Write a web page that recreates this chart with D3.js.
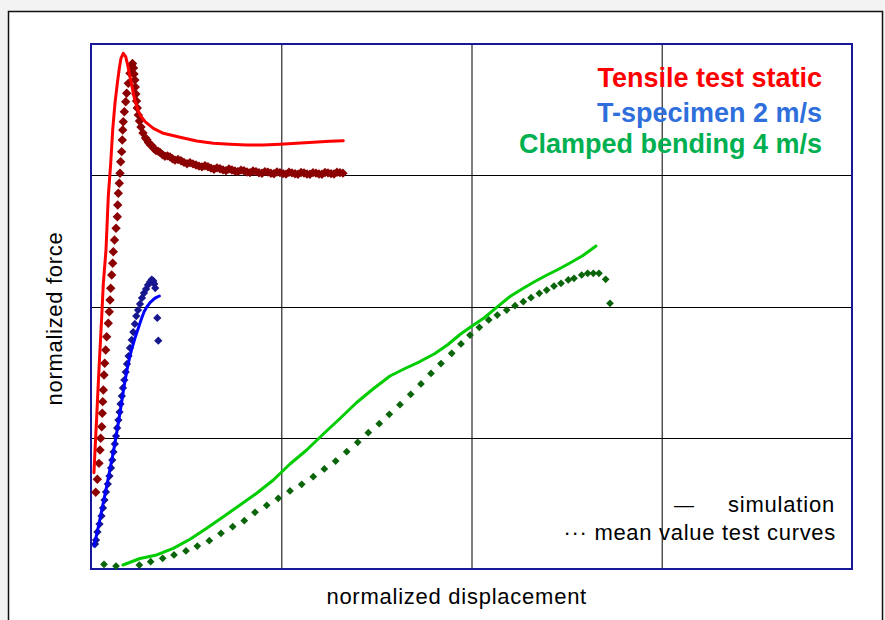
<!DOCTYPE html>
<html>
<head>
<meta charset="utf-8">
<script src="https://cdn.jsdelivr.net/npm/d3@7"></script>
<style>
  html, body { margin: 0; padding: 0; background: #f3f3f3; }
  svg { display: block; }
  text { font-family: "Liberation Sans", Arial, sans-serif; }
</style>
</head>
<body>
<svg id="chart" width="885" height="620"></svg>
<script>
// Normalized force vs. normalized displacement, simulation (lines) against
// mean test curves (diamonds) for three load cases.

const gridTicks = [0.25, 0.5, 0.75];

const seriesNames = ["Tensile test static", "T-specimen 2 m/s", "Clamped bending 4 m/s"];
const legendNotes = ["simulation", "\u00b7\u00b7\u00b7 mean value test curves"];

// Tensile test static — simulation
const tensileSim = [
  [0.0039,0.1834],[0.0053,0.2267],[0.0075,0.2901],[0.0096,0.3537],[0.0118,0.4171],
  [0.0141,0.4806],[0.0162,0.5442],[0.0197,0.6076],[0.0227,0.7091],[0.0259,0.7728],
  [0.0285,0.8362],[0.0315,0.8870],[0.0346,0.9251],[0.0372,0.9537],[0.0394,0.9728],
  [0.0424,0.9823],[0.0456,0.9758],[0.0477,0.9632],[0.0503,0.9442],[0.0535,0.9219],
  [0.0565,0.8996],[0.0601,0.8806],[0.0644,0.8648],[0.0710,0.8520],[0.0819,0.8394],
  [0.0950,0.8299],[0.1170,0.8223],[0.1389,0.8152],[0.1607,0.8109],[0.1827,0.8090],
  [0.2046,0.8076],[0.2264,0.8076],[0.2484,0.8090],[0.2703,0.8109],[0.2921,0.8128],
  [0.3141,0.8147],[0.3315,0.8158]
];

// Tensile test static — mean test curve
const tensileTest = [
  [0.0062,0.1461],[0.0083,0.1709],[0.0105,0.2013],[0.0118,0.2267],[0.0127,0.2490],
  [0.0141,0.2710],[0.0148,0.2966],[0.0154,0.3187],[0.0162,0.3410],[0.0171,0.3695],
  [0.0180,0.3918],[0.0193,0.4171],[0.0206,0.4425],[0.0227,0.4680],[0.0240,0.4901],
  [0.0250,0.5124],[0.0259,0.5347],[0.0272,0.5600],[0.0285,0.5823],[0.0293,0.6044],
  [0.0309,0.6267],[0.0329,0.6490],[0.0346,0.6710],[0.0351,0.6933],[0.0359,0.7156],
  [0.0372,0.7347],[0.0381,0.7537],[0.0390,0.7758],[0.0403,0.7949],[0.0411,0.8171],
  [0.0417,0.8362],[0.0424,0.8520],[0.0438,0.8710],[0.0456,0.8901],[0.0469,0.9061],
  [0.0490,0.9251],[0.0512,0.9442],[0.0535,0.9600],[0.0545,0.9629],[0.0558,0.9543],
  [0.0565,0.9429],[0.0576,0.9314],[0.0582,0.9181],[0.0589,0.9048],[0.0598,0.8914],
  [0.0608,0.8781],[0.0622,0.8648],[0.0637,0.8533],[0.0657,0.8419],[0.0683,0.8305],
  [0.0716,0.8210],[0.0736,0.8175],[0.0756,0.8124],[0.0779,0.8080],[0.0802,0.8060],
  [0.0828,0.8005],[0.0854,0.7970],[0.0880,0.7960],[0.0907,0.7935],[0.0940,0.7890],
  [0.0972,0.7862],[0.1005,0.7870],[0.1038,0.7850],[0.1071,0.7815],[0.1104,0.7788],
  [0.1143,0.7800],[0.1183,0.7775],[0.1222,0.7745],[0.1262,0.7720],[0.1301,0.7740],
  [0.1340,0.7716],[0.1380,0.7695],[0.1419,0.7674],[0.1458,0.7660],[0.1498,0.7680],
  [0.1537,0.7662],[0.1577,0.7635],[0.1616,0.7615],[0.1656,0.7641],[0.1695,0.7625],
  [0.1735,0.7602],[0.1774,0.7588],[0.1813,0.7618],[0.1852,0.7600],[0.1892,0.7580],
  [0.1931,0.7570],[0.1971,0.7598],[0.2010,0.7585],[0.2050,0.7561],[0.2089,0.7549],
  [0.2129,0.7582],[0.2168,0.7570],[0.2208,0.7548],[0.2247,0.7538],[0.2286,0.7570],
  [0.2325,0.7560],[0.2365,0.7538],[0.2404,0.7528],[0.2444,0.7562],[0.2483,0.7550],
  [0.2523,0.7532],[0.2562,0.7522],[0.2602,0.7556],[0.2641,0.7545],[0.2681,0.7528],
  [0.2720,0.7520],[0.2760,0.7552],[0.2799,0.7542],[0.2838,0.7525],[0.2877,0.7518],
  [0.2917,0.7550],[0.2956,0.7540],[0.2996,0.7524],[0.3035,0.7520],[0.3075,0.7552],
  [0.3114,0.7545],[0.3154,0.7530],[0.3193,0.7525],[0.3233,0.7558],[0.3272,0.7550],
  [0.3311,0.7540]
];

// T-specimen 2 m/s — simulation
const tSpecimenSim = [
  [0.0039,0.0438],[0.0079,0.0686],[0.0118,0.0952],[0.0158,0.1238],[0.0204,0.1562],
  [0.0250,0.1905],[0.0296,0.2248],[0.0335,0.2571],[0.0372,0.2895],[0.0407,0.3219],
  [0.0440,0.3524],[0.0473,0.3790],[0.0506,0.4019],[0.0539,0.4210],[0.0578,0.4400],
  [0.0618,0.4571],[0.0657,0.4743],[0.0696,0.4895],[0.0732,0.4990],[0.0775,0.5076],
  [0.0819,0.5133],[0.0854,0.5171],[0.0898,0.5200]
];

// T-specimen 2 m/s — mean test curve
const tSpecimenTest = [
  [0.0053,0.0476],[0.0066,0.0552],[0.0085,0.0705],[0.0112,0.0857],[0.0138,0.1010],
  [0.0158,0.1162],[0.0177,0.1314],[0.0197,0.1467],[0.0221,0.1619],[0.0243,0.1771],
  [0.0263,0.1924],[0.0280,0.2076],[0.0296,0.2229],[0.0313,0.2381],[0.0329,0.2533],
  [0.0344,0.2686],[0.0360,0.2838],[0.0375,0.2990],[0.0388,0.3143],[0.0405,0.3295],
  [0.0420,0.3448],[0.0438,0.3600],[0.0456,0.3752],[0.0473,0.3905],[0.0493,0.4057],
  [0.0512,0.4210],[0.0535,0.4362],[0.0556,0.4514],[0.0576,0.4667],[0.0595,0.4819],
  [0.0618,0.4933],[0.0644,0.5048],[0.0670,0.5162],[0.0696,0.5257],[0.0723,0.5333],
  [0.0749,0.5410],[0.0775,0.5467],[0.0798,0.5514],[0.0819,0.5486],[0.0832,0.5429],
  [0.0844,0.5352],[0.0871,0.4781],[0.0884,0.4349]
];

// Clamped bending 4 m/s — simulation
const bendingSim = [
  [0.0420,0.0076],[0.0644,0.0200],[0.0863,0.0267],[0.1081,0.0394],[0.1301,0.0566],
  [0.1520,0.0775],[0.1739,0.0996],[0.1958,0.1219],[0.2177,0.1442],[0.2396,0.1695],
  [0.2615,0.2000],[0.2834,0.2267],[0.3053,0.2571],[0.3272,0.2867],[0.3491,0.3171],
  [0.3706,0.3429],[0.3929,0.3676],[0.4126,0.3819],[0.4323,0.3952],[0.4520,0.4105],
  [0.4691,0.4276],[0.4849,0.4467],[0.5007,0.4629],[0.5164,0.4781],[0.5335,0.4990],
  [0.5506,0.5190],[0.5664,0.5333],[0.5821,0.5467],[0.5979,0.5590],[0.6137,0.5705],
  [0.6294,0.5829],[0.6465,0.5971],[0.6636,0.6152]
];

// Clamped bending 4 m/s — mean test curve
const bendingTest = [
  [0.0171,0.0090],[0.0329,0.0057],[0.0635,0.0076],[0.0784,0.0139],[0.0942,0.0204],
  [0.1091,0.0267],[0.1248,0.0343],[0.1397,0.0438],[0.1555,0.0539],[0.1708,0.0680],
  [0.1862,0.0806],[0.2014,0.0920],[0.2155,0.1080],[0.2309,0.1213],[0.2461,0.1347],
  [0.2615,0.1486],[0.2769,0.1613],[0.2921,0.1758],[0.3066,0.1905],[0.3215,0.2057],
  [0.3360,0.2234],[0.3505,0.2413],[0.3644,0.2596],[0.3788,0.2768],[0.3920,0.2947],
  [0.4060,0.3130],[0.4201,0.3328],[0.4336,0.3524],[0.4468,0.3724],[0.4599,0.3914],
  [0.4740,0.4109],[0.4862,0.4286],[0.4980,0.4457],[0.5103,0.4604],[0.5226,0.4743],
  [0.5339,0.4838],[0.5463,0.4933],[0.5572,0.5015],[0.5681,0.5091],[0.5782,0.5168],
  [0.5891,0.5251],[0.5988,0.5314],[0.6084,0.5390],[0.6176,0.5442],[0.6272,0.5505],
  [0.6347,0.5537],[0.6448,0.5600],[0.6527,0.5632],[0.6601,0.5632],[0.6675,0.5632],
  [0.6763,0.5518],[0.6820,0.5061]
];

const svg = d3.select("#chart");

// page frame
svg.append("rect")
  .attr("x", 8.5).attr("y", 11.5).attr("width", 874).attr("height", 640)
  .attr("fill", "#ffffff").attr("stroke", "#111").attr("stroke-width", 1.5);

const plot = { left: 91, top: 44, right: 852, bottom: 569 };
const x = d3.scaleLinear().domain([0, 1]).range([plot.left, plot.right]);
const y = d3.scaleLinear().domain([0, 1]).range([plot.bottom, plot.top]);

// grid lines drawn as tick lines of label-less axes
const gx = svg.append("g")
  .attr("transform", `translate(0,${plot.bottom})`)
  .call(d3.axisBottom(x).tickValues(gridTicks).tickSize(-(plot.bottom - plot.top)).tickFormat(""));
gx.select(".domain").remove();
gx.selectAll(".tick line").attr("stroke", "#3a3a3a").attr("stroke-width", 1.3);

const gy = svg.append("g")
  .attr("transform", `translate(${plot.left},0)`)
  .call(d3.axisLeft(y).tickValues(gridTicks).tickSize(-(plot.right - plot.left)).tickFormat(""));
gy.select(".domain").remove();
gy.selectAll(".tick line").attr("stroke", "#000").attr("stroke-width", 1)
  .attr("shape-rendering", "crispEdges");

// plot border
svg.append("rect")
  .attr("x", plot.left).attr("y", plot.top)
  .attr("width", plot.right - plot.left).attr("height", plot.bottom - plot.top)
  .attr("fill", "none").attr("stroke", "#17179a").attr("stroke-width", 2);

// diamond marker (square turned 45°)
const diamond = {
  draw(ctx, size) {
    const r = Math.sqrt(size / 2);
    ctx.moveTo(0, -r); ctx.lineTo(r, 0); ctx.lineTo(0, r); ctx.lineTo(-r, 0); ctx.closePath();
  }
};

function drawTest(data, color, size) {
  svg.append("g").selectAll("path").data(data).join("path")
    .attr("transform", d => `translate(${x(d[0])},${y(d[1])})`)
    .attr("d", d3.symbol().type(diamond).size(size))
    .attr("fill", color);
}

const line = d3.line().x(d => x(d[0])).y(d => y(d[1]));
function drawSim(data, color) {
  svg.append("path").datum(data)
    .attr("d", line)
    .attr("fill", "none").attr("stroke", color)
    .attr("stroke-width", 3).attr("stroke-linejoin", "round").attr("stroke-linecap", "round");
}

drawTest(tensileTest, "#8b0000", 44);
drawTest(tSpecimenTest, "#16168f", 34);
drawTest(bendingTest, "#0a640a", 30);

drawSim(tensileSim, "#ff0000");
drawSim(tSpecimenSim, "#0000ff");
drawSim(bendingSim, "#00cc00");

// series titles, top right
const titleColors = ["#ff0000", "#2e6fdc", "#00b050"];
const titleBaselines = [87, 121.5, 152.5];
svg.append("g").selectAll("text").data(seriesNames).join("text")
  .attr("x", 822).attr("y", (d, i) => titleBaselines[i])
  .attr("text-anchor", "end")
  .attr("font-size", 27).attr("font-weight", "bold")
  .attr("fill", (d, i) => titleColors[i])
  .text(d => d);

// line-style key, bottom right
svg.append("text")
  .attr("x", 674).attr("y", 512)
  .attr("font-size", 20).attr("fill", "#000")
  .text("\u2014");
svg.append("text")
  .attr("x", 835).attr("y", 512)
  .attr("text-anchor", "end").attr("font-size", 22).attr("letter-spacing", 0.8)
  .attr("fill", "#000")
  .text(legendNotes[0]);
svg.append("text")
  .attr("x", 836).attr("y", 540)
  .attr("text-anchor", "end").attr("font-size", 22).attr("letter-spacing", 0.7)
  .attr("fill", "#000")
  .text(legendNotes[1]);

// axis titles
svg.append("text")
  .attr("x", 456.7).attr("y", 604)
  .attr("text-anchor", "middle").attr("font-size", 22).attr("letter-spacing", 0.75)
  .attr("fill", "#000")
  .text("normalized displacement");
svg.append("text")
  .attr("transform", "translate(61.5,318.5) rotate(-90)")
  .attr("text-anchor", "middle").attr("font-size", 22).attr("letter-spacing", 0.7)
  .attr("fill", "#000")
  .text("normalized force");
</script>
</body>
</html>
